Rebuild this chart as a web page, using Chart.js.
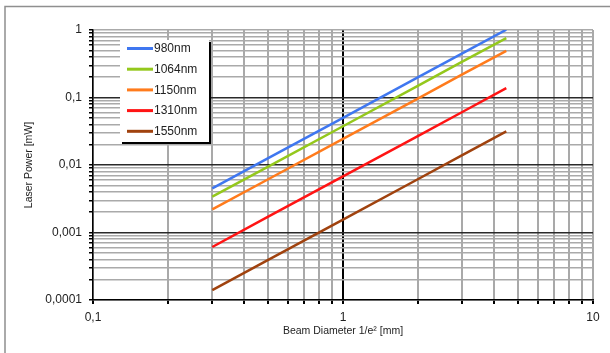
<!DOCTYPE html>
<html>
<head>
<meta charset="utf-8">
<script src="https://cdn.jsdelivr.net/npm/chart.js@4/dist/chart.umd.min.js"></script>
<style>
  html, body { margin: 0; padding: 0; background: #fff; }
  canvas { display: block; }
</style>
</head>
<body>
<canvas id="chart" width="610" height="353"></canvas>
<script>
// Beam diameter (1/e², mm) at which each curve was sampled
const diameters = [0.3, 0.5, 1, 2, 3, 4.5];

// Laser power (mW) per wavelength
const power980  = [0.0045, 0.0125, 0.05, 0.2, 0.45, 1.01];
const power1064 = [0.0034, 0.0094, 0.0375, 0.15, 0.34, 0.76];
const power1150 = [0.0022, 0.0061, 0.0243, 0.097, 0.22, 0.49];
const power1310 = [0.00061, 0.0017, 0.0068, 0.027, 0.061, 0.138];
const power1550 = [0.00014, 0.00039, 0.00155, 0.0062, 0.014, 0.0314];

const seriesLabels = ['980nm', '1064nm', '1150nm', '1310nm', '1550nm'];
const seriesColors = ['#3f77f0', '#94c81c', '#ff7b1c', '#ff1414', '#a0420e'];

// Gridline positions (log decades with 2..9 subdivisions)
const xTicks = [0.1, 0.2, 0.3, 0.4, 0.5, 0.6, 0.7, 0.8, 0.9,
                1, 2, 3, 4, 5, 6, 7, 8, 9, 10];
const yTicks = [0.0001, 0.0002, 0.0003, 0.0004, 0.0005, 0.0006, 0.0007, 0.0008, 0.0009,
                0.001, 0.002, 0.003, 0.004, 0.005, 0.006, 0.007, 0.008, 0.009,
                0.01, 0.02, 0.03, 0.04, 0.05, 0.06, 0.07, 0.08, 0.09,
                0.1, 0.2, 0.3, 0.4, 0.5, 0.6, 0.7, 0.8, 0.9, 1];

// Decade labels (decimal comma)
const xTickLabels = { 0.1: '0,1', 1: '1', 10: '10' };
const yTickLabels = { 0.0001: '0,0001', 0.001: '0,001', 0.01: '0,01', 0.1: '0,1', 1: '1' };

const powers = [power980, power1064, power1150, power1310, power1550];

const FONT = "'Liberation Sans', Arial, sans-serif";

const datasets = powers.map((arr, i) => ({
  label: seriesLabels[i],
  data: diameters.map((d, j) => ({ x: d, y: arr[j] })),
  borderColor: seriesColors[i],
  backgroundColor: seriesColors[i],
  borderWidth: 2.5,
  pointRadius: 0,
  tension: 0,
  fill: false
}));

// White page with a thin grey frame along the top and left edges
const framePlugin = {
  id: 'frame',
  beforeDraw(chart) {
    const ctx = chart.ctx;
    ctx.save();
    ctx.fillStyle = '#fff';
    ctx.fillRect(0, 0, chart.width, chart.height);
    ctx.strokeStyle = '#8f8f8f';
    ctx.lineWidth = 1.5;
    ctx.beginPath();
    ctx.moveTo(5, chart.height);
    ctx.lineTo(5, 6.5);
    ctx.lineTo(chart.width, 6.5);
    ctx.stroke();
    ctx.restore();
  }
};

// Boxed legend with a drop shadow inside the plot area
const boxLegendPlugin = {
  id: 'boxLegend',
  afterDatasetsDraw(chart) {
    const ctx = chart.ctx;
    const area = chart.chartArea;
    const x = area.left + 27, y = area.top + 10, w = 89, h = 102;
    ctx.save();
    ctx.fillStyle = '#000';
    ctx.fillRect(x + 2, y + 2, w, h);
    ctx.fillStyle = '#fff';
    ctx.fillRect(x, y, w, h);
    ctx.font = '12px ' + FONT;
    ctx.textBaseline = 'middle';
    ctx.textAlign = 'left';
    chart.data.datasets.forEach((ds, i) => {
      const cy = y + 8.5 + i * 20.7;
      ctx.strokeStyle = ds.borderColor;
      ctx.lineWidth = 3;
      ctx.beginPath();
      ctx.moveTo(x + 7, cy);
      ctx.lineTo(x + 33, cy);
      ctx.stroke();
      ctx.fillStyle = '#222';
      ctx.fillText(ds.label, x + 34, cy + 0.5);
    });
    ctx.restore();
  }
};

new Chart(document.getElementById('chart'), {
  type: 'line',
  data: { datasets },
  options: {
    responsive: false,
    devicePixelRatio: 1,
    animation: false,
    layout: { padding: { left: 10, top: 30, right: 17, bottom: 10 } },
    plugins: {
      legend: { display: false },
      tooltip: { enabled: false }
    },
    scales: {
      x: {
        type: 'logarithmic',
        min: 0.1,
        max: 10,
        afterBuildTicks(scale) { scale.ticks = xTicks.map(v => ({ value: v })); },
        afterFit(scale) { scale.height = 43; },
        ticks: {
          autoSkip: false,
          maxRotation: 0,
          minRotation: 0,
          padding: 6,
          color: '#222',
          font: { family: FONT, size: 12 },
          callback: (v) => xTickLabels[v] || ''
        },
        grid: {
          color: (c) => (c.tick && c.tick.value === 1) ? '#000' : '#a9a9a9',
          lineWidth: (c) => (c.tick && c.tick.value === 1) ? 2 : 2,
          tickColor: '#000',
          tickLength: 4
        },
        border: { color: '#000', width: 1.5 },
        title: {
          display: true,
          text: 'Beam Diameter 1/e² [mm]',
          color: '#222',
          font: { family: FONT, size: 10.5 },
          padding: { top: 0, bottom: 6 }
        }
      },
      y: {
        type: 'logarithmic',
        min: 0.0001,
        max: 1,
        afterBuildTicks(scale) { scale.ticks = yTicks.map(v => ({ value: v })); },
        afterFit(scale) { scale.width = 83; },
        ticks: {
          autoSkip: false,
          padding: 7,
          color: '#222',
          font: { family: FONT, size: 12 },
          callback: (v) => yTickLabels[v] || ''
        },
        grid: {
          color: (c) => {
            const v = c.tick && c.tick.value;
            return (v === 0.1 || v === 0.01 || v === 0.001) ? '#2a2a2a' : '#aaaaaa';
          },
          lineWidth: (c) => {
            const v = c.tick && c.tick.value;
            return (v === 0.1 || v === 0.01 || v === 0.001) ? 1.5 : 1.5;
          },
          tickColor: '#000',
          tickLength: 4
        },
        border: { color: '#000', width: 1.5 },
        title: {
          display: true,
          text: 'Laser Power [mW]',
          color: '#222',
          font: { family: FONT, size: 10.5 },
          padding: { top: 13, bottom: 0 }
        }
      }
    }
  },
  plugins: [framePlugin, boxLegendPlugin]
});
</script>
</body>
</html>
